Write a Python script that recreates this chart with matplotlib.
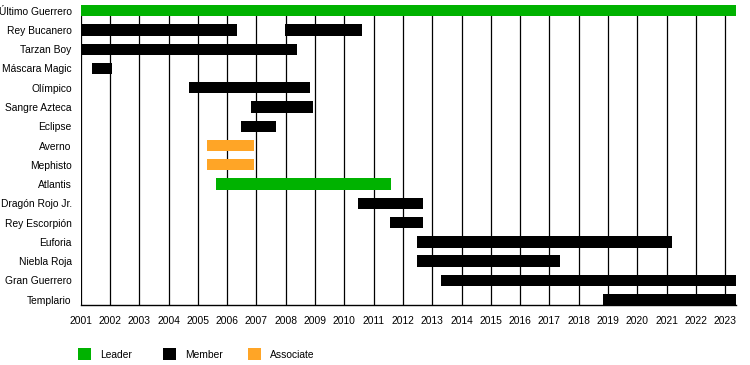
import matplotlib
matplotlib.use("Agg")
import matplotlib.pyplot as plt
from matplotlib.patches import Rectangle

plt.rcParams['font.family'] = ['Liberation Sans', 'DejaVu Sans']

members = ["Último Guerrero", "Rey Bucanero", "Tarzan Boy", "Máscara Magic", "Olímpico",
           "Sangre Azteca", "Eclipse", "Averno", "Mephisto", "Atlantis", "Dragón Rojo Jr.",
           "Rey Escorpión", "Euforia", "Niebla Roja", "Gran Guerrero", "Templario"]

seg_member = ["Último Guerrero", "Rey Bucanero", "Rey Bucanero", "Tarzan Boy", "Máscara Magic",
              "Olímpico", "Sangre Azteca", "Eclipse", "Averno", "Mephisto", "Atlantis",
              "Dragón Rojo Jr.", "Rey Escorpión", "Euforia", "Niebla Roja", "Gran Guerrero",
              "Templario"]
seg_start = [2001.0, 2001.0, 2007.98, 2001.0, 2001.39, 2004.70, 2006.81, 2006.47, 2005.31,
             2005.31, 2005.62, 2010.46, 2011.56, 2012.48, 2012.48, 2013.30, 2018.83]
seg_end = [2023.37, 2006.32, 2010.60, 2008.40, 2002.07, 2008.83, 2008.93, 2007.67, 2006.92,
           2006.92, 2011.58, 2012.68, 2012.68, 2021.17, 2017.36, 2023.37, 2023.37]
seg_role = ["Leader", "Member", "Member", "Member", "Member", "Member", "Member", "Member",
            "Associate", "Associate", "Leader", "Member", "Member", "Member", "Member",
            "Member", "Member"]

roles = ["Leader", "Member", "Associate"]
role_colors = {"Leader": "#00b200", "Member": "#000000", "Associate": "#ffa526"}

years = list(range(2001, 2024))
x_min, x_max = 2001.0, 2023.37

W, H = 750, 365
fig = plt.figure(figsize=(W / 100, H / 100), dpi=100)
ax = fig.add_axes([80.7 / W, 1 - 305.3 / H, (736 - 80.7) / W, (305.3 - 5) / H])

bar_h = 0.587
for m, s, e, r in zip(seg_member, seg_start, seg_end, seg_role):
    ax.barh(members.index(m), e - s, left=s, height=bar_h, color=role_colors[r],
            edgecolor='none', zorder=3)

for yr in years:
    ax.axvline(yr, color='black', linewidth=0.9, zorder=1)

fs = 7.4
ax.set_xlim(x_min, x_max)
ax.set_ylim(len(members) - 1 + bar_h / 2, -bar_h / 2)
ax.set_yticks(range(len(members)))
ax.set_yticklabels(members, fontsize=fs)
ax.set_xticks(years)
ax.set_xticklabels([str(y) for y in years], fontsize=fs)
ax.tick_params(axis='both', length=0)
ax.tick_params(axis='y', pad=6.5)
ax.tick_params(axis='x', pad=8)
for sp in ['top', 'right', 'left']:
    ax.spines[sp].set_visible(False)
ax.spines['bottom'].set_linewidth(1.0)
ax.spines['bottom'].set_zorder(4)

leg_x = [78, 163, 248]
for i, r in enumerate(roles):
    x0 = leg_x[i]
    fig.add_artist(Rectangle((x0 / W, 1 - 360 / H), 13 / W, 12.5 / H, transform=fig.transFigure,
                             facecolor=role_colors[r], edgecolor='none'))
    fig.text((x0 + 22) / W, 1 - 355 / H, r, fontsize=fs, va='center', ha='left')

fig.savefig("out.png", dpi=100)
